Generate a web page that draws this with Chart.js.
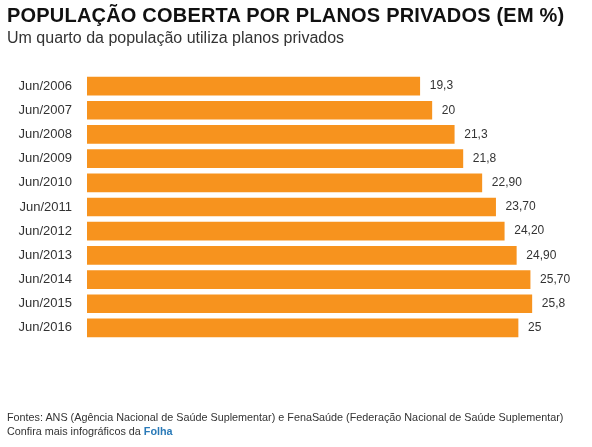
<!DOCTYPE html>
<html><head><meta charset="utf-8">
<script src="https://cdn.jsdelivr.net/npm/chart.js@4"></script>
<style>
body{margin:0;background:#fff;font-family:Arial,"Liberation Sans",sans-serif;}
#wrap{position:relative;width:592px;height:447px;}
canvas{position:absolute;left:0;top:0;}
.t{position:absolute;left:7px;top:4px;font-size:20px;font-weight:bold;color:#111;letter-spacing:0.2px;}
.s{position:absolute;left:7px;top:29px;font-size:16px;color:#333;}
.f{position:absolute;left:7px;font-size:10.8px;color:#333;}
.f b{color:#2a7ab8;}
</style></head><body>
<div id="wrap">
<canvas id="c" width="592" height="447"></canvas>
<div class="t">POPULAÇÃO COBERTA POR PLANOS PRIVADOS (EM %)</div>
<div class="s">Um quarto da população utiliza planos privados</div>
<div class="f" style="top:411px">Fontes: ANS (Agência Nacional de Saúde Suplementar) e FenaSaúde (Federação Nacional de Saúde Suplementar)</div>
<div class="f" style="top:425px">Confira mais infográficos da <b>Folha</b></div>
</div>
<script>
const categories = ["Jun/2006","Jun/2007","Jun/2008","Jun/2009","Jun/2010","Jun/2011","Jun/2012","Jun/2013","Jun/2014","Jun/2015","Jun/2016"];
const values = [19.3, 20, 21.3, 21.8, 22.9, 23.7, 24.2, 24.9, 25.7, 25.8, 25];
const valueLabels = ["19,3","20","21,3","21,8","22,90","23,70","24,20","24,90","25,70","25,8","25"];

const endLabels = {
  id: "endLabels",
  afterDatasetsDraw(chart) {
    const ctx = chart.ctx;
    ctx.save();
    ctx.font = "12px Arial, 'Liberation Sans', sans-serif";
    ctx.fillStyle = "#333";
    ctx.textBaseline = "middle";
    chart.getDatasetMeta(0).data.forEach((bar, i) => {
      ctx.fillText(valueLabels[i], bar.x + 10, bar.y);
    });
    ctx.restore();
  }
};

new Chart(document.getElementById("c"), {
  type: "bar",
  data: { labels: categories, datasets: [{ data: values, backgroundColor: "#F7931E", barThickness: 18 }] },
  options: {
    indexAxis: "y",
    responsive: false,
    animation: false,
    layout: { padding: { top: 74, bottom: 107, left: 0, right: 5 } },
    plugins: { legend: { display: false }, tooltip: { enabled: false } },
    scales: {
      x: { display: false, min: 0, max: 29 },
      y: {
        grid: { display: false },
        border: { display: false },
        ticks: { color: "#333", font: { size: 13, family: "Arial, 'Liberation Sans', sans-serif" }, padding: 7 },
        afterFit(scale) { scale.width = 87; }
      }
    }
  },
  plugins: [endLabels]
});
</script>
</body></html>
